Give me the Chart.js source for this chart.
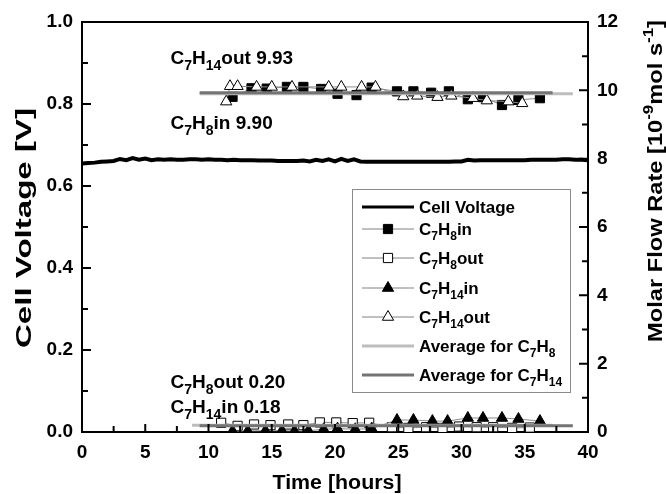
<!DOCTYPE html>
<html>
<head>
<meta charset="utf-8">
<script src="https://cdn.jsdelivr.net/npm/chart.js@4.4.1/dist/chart.umd.min.js"></script>
<style>
  html, body { margin: 0; padding: 0; background: #fff; }
</style>
</head>
<body>
<canvas id="chart" width="666" height="494"></canvas>
<script>
// cell voltage trace, read every half hour
const hours = [
  0, 0.5, 1, 1.5, 2, 2.5, 3, 3.5, 4, 4.5,
  5, 5.5, 6, 6.5, 7, 7.5, 8, 8.5, 9, 9.5,
  10, 10.5, 11, 11.5, 12, 12.5, 13, 13.5, 14, 14.5,
  15, 15.5, 16, 16.5, 17, 17.5, 18, 18.5, 19, 19.5,
  20, 20.5, 21, 21.5, 22, 22.5, 23, 23.5, 24, 24.5,
  25, 25.5, 26, 26.5, 27, 27.5, 28, 28.5, 29, 29.5,
  30, 30.5, 31, 31.5, 32, 32.5, 33, 33.5, 34, 34.5,
  35, 35.5, 36, 36.5, 37, 37.5, 38, 38.5, 39, 39.5,
  40
];
const cellVoltage = [
  0.655, 0.656, 0.657, 0.659, 0.660, 0.661, 0.666, 0.663, 0.668, 0.664,
  0.667, 0.663, 0.665, 0.664, 0.665, 0.664, 0.664, 0.665, 0.665, 0.664,
  0.665, 0.664, 0.664, 0.663, 0.664, 0.663, 0.663, 0.663, 0.662, 0.662,
  0.662, 0.661, 0.661, 0.661, 0.661, 0.662, 0.660, 0.664, 0.661, 0.665,
  0.660, 0.666, 0.661, 0.665, 0.660, 0.659, 0.659, 0.659, 0.659, 0.659,
  0.659, 0.659, 0.659, 0.659, 0.659, 0.659, 0.659, 0.659, 0.659, 0.660,
  0.660, 0.664, 0.662, 0.663, 0.663, 0.663, 0.663, 0.663, 0.663, 0.663,
  0.663, 0.664, 0.664, 0.664, 0.664, 0.664, 0.665, 0.665, 0.664, 0.664,
  0.663
];

// molar flow rates [1e-9 mol/s]
const c7h8InHours = [11.9, 13.4, 14.6, 16.2, 17.5, 18.9, 20.2, 21.7, 22.9, 24.9, 26.2, 27.6, 29.0, 30.5, 31.7, 33.2, 34.5, 36.2];
const c7h8In      = [9.81, 10.06, 10.05, 10.10, 10.10, 10.04, 9.90, 9.86, 10.08, 9.97, 9.97, 9.93, 9.97, 9.74, 9.80, 9.57, 9.72, 9.77];

const c7h14OutHours = [11.4, 11.7, 12.3, 13.8, 15.0, 16.6, 19.5, 20.5, 22.1, 23.2, 25.4, 26.5, 28.1, 29.2, 30.9, 32.0, 33.7, 34.8];
const c7h14Out      = [9.67, 10.12, 10.12, 10.10, 10.10, 10.10, 10.10, 10.10, 10.10, 10.10, 9.82, 9.84, 9.80, 9.84, 9.77, 9.70, 9.67, 9.62];

const c7h8OutHours = [11.0, 12.3, 13.6, 14.9, 16.3, 17.5, 18.8, 20.1, 21.4, 22.7, 24.5, 25.8, 27.2, 28.5, 29.8, 31.2, 32.5, 34.0, 35.4];
const c7h8Out      = [0.27, 0.18, 0.22, 0.20, 0.22, 0.20, 0.28, 0.28, 0.26, 0.27, 0.14, 0.12, 0.14, 0.12, 0.16, 0.14, 0.14, 0.12, 0.13];

const c7h14InHours = [11.9, 13.1, 14.5, 15.8, 16.8, 17.9, 19.1, 20.2, 21.6, 22.9, 24.9, 26.2, 27.7, 28.9, 30.5, 31.7, 33.2, 34.5, 36.2];
const c7h14In      = [0.03, 0.03, 0.04, 0.04, 0.03, 0.04, 0.08, 0.10, 0.08, 0.10, 0.35, 0.35, 0.32, 0.32, 0.41, 0.41, 0.41, 0.38, 0.32];

// averages (top value, bottom value) and the hours they run over
const avgC7H8 = [9.90, 0.20];
const avgC7H8Span = [[9.3, 38.8], [8.7, 37.2]];
const avgC7H14 = [9.93, 0.18];
const avgC7H14Span = [[9.3, 37.2], [9.3, 38.8]];

const FONT = '"Liberation Sans", Arial, sans-serif';

const pts = (xs, ys) => xs.map((x, i) => ({ x: x, y: ys[i] }));
const avgLine = (vals, spans) => [
  { x: spans[0][0], y: vals[0] }, { x: spans[0][1], y: vals[0] },
  { x: spans[0][1], y: null },
  { x: spans[1][0], y: vals[1] }, { x: spans[1][1], y: vals[1] }
];

const C7H8 = [['C', 'n'], ['7', 'sub'], ['H', 'n'], ['8', 'sub']];
const C7H14 = [['C', 'n'], ['7', 'sub'], ['H', 'n'], ['14', 'sub']];

// draws text with sub/superscripts; optional width stretches it to a given length
function richText(ctx, parts, x, y, size, align, width) {
  const small = Math.round(size * 0.72);
  let w = 0;
  parts.forEach(p => {
    ctx.font = 'bold ' + (p[1] === 'n' ? size : small) + 'px ' + FONT;
    w += ctx.measureText(p[0]).width;
  });
  const k = width ? width / w : 1;
  ctx.save();
  ctx.translate(align === 'center' ? x - w * k / 2 : x, y);
  ctx.scale(k, 1);
  ctx.textAlign = 'left';
  ctx.textBaseline = 'alphabetic';
  let cx = 0;
  parts.forEach(p => {
    const s = p[1] === 'n' ? size : small;
    ctx.font = 'bold ' + s + 'px ' + FONT;
    const dy = p[1] === 'sub' ? size * 0.3 : p[1] === 'sup' ? -size * 0.42 : 0;
    ctx.fillText(p[0], cx, dy);
    cx += ctx.measureText(p[0]).width;
  });
  ctx.restore();
}

function marker(ctx, style, filled, x, y, r) {
  ctx.beginPath();
  if (style === 'rect') {
    const s = r * Math.SQRT1_2;
    ctx.rect(x - s, y - s, 2 * s, 2 * s);
  } else {
    ctx.moveTo(x, y - r);
    ctx.lineTo(x + r * 0.866, y + r * 0.5);
    ctx.lineTo(x - r * 0.866, y + r * 0.5);
    ctx.closePath();
  }
  ctx.fillStyle = filled ? '#000' : '#fff';
  ctx.fill();
  ctx.lineWidth = 1;
  ctx.strokeStyle = '#000';
  ctx.stroke();
}

const legendRows = [
  { y: 207, kind: 'line', color: '#000', width: 3, label: [['Cell Voltage', 'n']] },
  { y: 229, kind: 'mark', style: 'rect', filled: true, label: C7H8.concat([['in', 'n']]) },
  { y: 258, kind: 'mark', style: 'rect', filled: false, label: C7H8.concat([['out', 'n']]) },
  { y: 288, kind: 'mark', style: 'triangle', filled: true, label: C7H14.concat([['in', 'n']]) },
  { y: 317, kind: 'mark', style: 'triangle', filled: false, label: C7H14.concat([['out', 'n']]) },
  { y: 346, kind: 'line', color: '#bdbdbd', width: 3, label: [['Average for ', 'n']].concat(C7H8) },
  { y: 375, kind: 'line', color: '#747474', width: 3, label: [['Average for ', 'n']].concat(C7H14) }
];

const decorations = {
  id: 'decorations',
  afterDraw(chart) {
    const ctx = chart.ctx;
    const a = chart.chartArea;
    const x = chart.scales.x, y = chart.scales.y, y1 = chart.scales.y1;
    ctx.save();
    ctx.strokeStyle = '#000';
    ctx.lineWidth = 2;
    // top frame
    ctx.beginPath();
    ctx.moveTo(a.left - 1, a.top);
    ctx.lineTo(a.right + 1, a.top);
    ctx.stroke();
    // inward ticks
    ctx.lineWidth = 2;
    ctx.beginPath();
    for (let h = 2.5; h < 40; h += 2.5) {
      const px = x.getPixelForValue(h);
      const len = (h % 5 === 0) ? 8 : 6;
      ctx.moveTo(px, a.bottom);
      ctx.lineTo(px, a.bottom - len);
    }
    for (let v = 1; v < 10; v++) {
      const py = y.getPixelForValue(v / 10);
      const len = (v % 2 === 0) ? 9 : 6;
      ctx.moveTo(a.left, py);
      ctx.lineTo(a.left + len, py);
    }
    for (let v = 1; v < 12; v++) {
      const py = y1.getPixelForValue(v);
      const len = (v % 2 === 0) ? 9 : 6;
      ctx.moveTo(a.right, py);
      ctx.lineTo(a.right - len, py);
    }
    ctx.stroke();

    ctx.fillStyle = '#000';
    // value notes
    const nx = x.getPixelForValue(7.0);
    richText(ctx, C7H14.concat([['out 9.93', 'n']]), nx, 64, 19);
    richText(ctx, C7H8.concat([['in 9.90', 'n']]), nx, 129, 19);
    richText(ctx, C7H8.concat([['out 0.20', 'n']]), nx, 388, 19);
    richText(ctx, C7H14.concat([['in 0.18', 'n']]), nx, 413, 19);

    // legend
    ctx.strokeStyle = '#8a8a8a';
    ctx.lineWidth = 1;
    ctx.strokeRect(352.5, 189.5, 218, 203);
    legendRows.forEach(r => {
      if (r.kind === 'line') {
        ctx.strokeStyle = r.color;
        ctx.lineWidth = r.width;
        ctx.beginPath();
        ctx.moveTo(362, r.y);
        ctx.lineTo(414, r.y);
        ctx.stroke();
      } else {
        ctx.strokeStyle = '#808080';
        ctx.lineWidth = 1;
        ctx.beginPath();
        ctx.moveTo(362, r.y);
        ctx.lineTo(414, r.y);
        ctx.stroke();
        marker(ctx, r.style, r.filled, 388, r.y, 6.5);
      }
      ctx.fillStyle = '#000';
      richText(ctx, r.label, 419, r.y + 6, 17);
    });

    // axis titles
    ctx.fillStyle = '#000';
    ctx.save();
    ctx.translate(31, 228);
    ctx.rotate(-Math.PI / 2);
    richText(ctx, [['Cell Voltage [V]', 'n']], 0, 0, 22, 'center', 240);
    ctx.restore();
    ctx.save();
    ctx.translate(662, 181);
    ctx.rotate(-Math.PI / 2);
    richText(ctx, [['Molar Flow Rate [10', 'n'], ['-9', 'sup'], ['mol s', 'n'], ['-1', 'sup'], [']', 'n']], 0, 0, 21, 'center', 322);
    ctx.restore();
    richText(ctx, [['Time [hours]', 'n']], 337, 489, 20, 'center', 129);
    ctx.restore();
  }
};

const markerSet = (label, xs, ys, style, filled) => ({
  label: label,
  data: pts(xs, ys),
  yAxisID: 'y1',
  showLine: true,
  borderColor: '#8c8c8c',
  borderWidth: 1,
  pointStyle: style,
  pointRadius: 6.5,
  pointBackgroundColor: filled ? '#000' : '#fff',
  pointBorderColor: '#000',
  pointBorderWidth: 1,
  order: 1
});

const tickFont = { family: FONT, size: 19, weight: 'bold' };

new Chart(document.getElementById('chart').getContext('2d'), {
  type: 'scatter',
  data: {
    datasets: [
      {
        label: 'Average for C7H14', data: avgLine(avgC7H14, avgC7H14Span), yAxisID: 'y1',
        showLine: true, borderColor: '#747474', borderWidth: 3, pointRadius: 0, order: 0
      },
      {
        label: 'Average for C7H8', data: avgLine(avgC7H8, avgC7H8Span), yAxisID: 'y1',
        showLine: true, borderColor: '#bdbdbd', borderWidth: 3, pointRadius: 0, order: 0
      },
      markerSet('C7H14out', c7h14OutHours, c7h14Out, 'triangle', false),
      markerSet('C7H8in', c7h8InHours, c7h8In, 'rect', true),
      markerSet('C7H14in', c7h14InHours, c7h14In, 'triangle', true),
      markerSet('C7H8out', c7h8OutHours, c7h8Out, 'rect', false),
      {
        label: 'Cell Voltage', data: pts(hours, cellVoltage), yAxisID: 'y',
        showLine: true, borderColor: '#000', borderWidth: 4, pointRadius: 0, order: 2
      }
    ]
  },
  options: {
    responsive: false,
    animation: false,
    layout: { padding: { top: 22, left: 0, right: 0, bottom: 0 } },
    plugins: { legend: { display: false }, tooltip: { enabled: false } },
    scales: {
      x: {
        type: 'linear', min: 0, max: 40,
        grid: { display: false, drawTicks: false, tickLength: 0 },
        border: { display: true, color: '#000', width: 2 },
        ticks: { stepSize: 5, font: tickFont, color: '#000', padding: 9, maxRotation: 0 },
        afterFit: s => { s.height = 62; }
      },
      y: {
        position: 'left', min: 0, max: 1,
        grid: { display: false, drawTicks: false, tickLength: 0 },
        border: { display: true, color: '#000', width: 2 },
        ticks: { stepSize: 0.2, font: tickFont, color: '#000', padding: 9, callback: v => v.toFixed(1) },
        afterFit: s => { s.width = 82; }
      },
      y1: {
        position: 'right', min: 0, max: 12,
        grid: { display: false, drawTicks: false, tickLength: 0 },
        border: { display: true, color: '#000', width: 2 },
        ticks: { stepSize: 2, font: tickFont, color: '#000', padding: 9 },
        afterFit: s => { s.width = 78; }
      }
    }
  },
  plugins: [decorations]
});
</script>
</body>
</html>
